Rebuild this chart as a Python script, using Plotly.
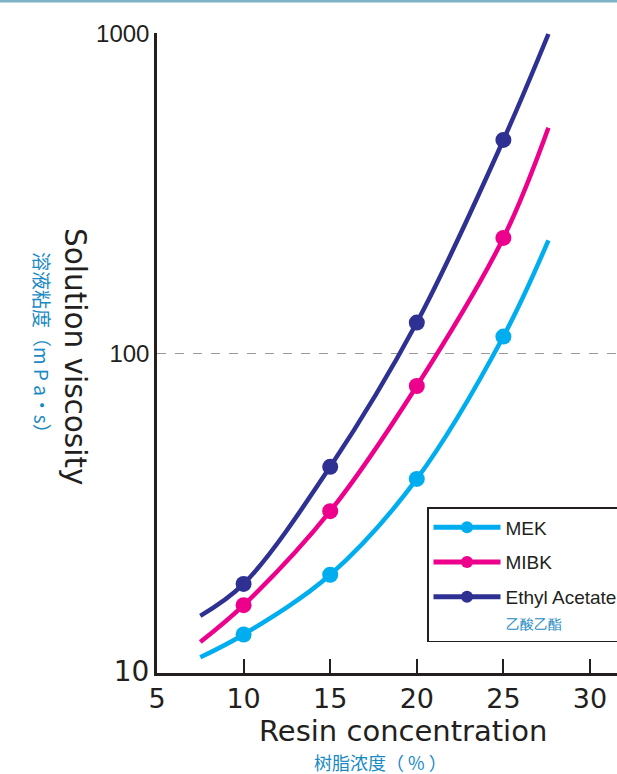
import plotly.graph_objects as go

# ---- data ----
x_line = [7.5, 10, 15, 20, 25, 27.6]
mek = [11.2, 13.2, 20.3, 40.5, 113, 226]
mibk = [12.5, 16.3, 32.1, 79.1, 230, 509]
ethyl = [15.1, 19.0, 44.2, 125, 466, 1000]
marker_sizes = [0, 16, 16, 16, 16, 0]

series_names = ["MEK", "MIBK",
                "Ethyl Acetate<br><span style='font-size:14px;color:#1a8ac4'>乙酸乙酯</span>"]
series_colors = ["#00aeef", "#ec008c", "#2e3192"]

x_ticks = [5, 10, 15, 20, 25, 30]
y_ticks = [10, 100, 1000]
y_ticktext = ["<span style='font-size:28px;font-family:DejaVu Sans'>10</span>", "100", "1000"]

W, H = 617, 774
L, R, T, B = 157, 0, 33, 101
pw, ph = W - L - R, H - T - B

def px(xpix):
    return (xpix - L) / pw

def py(ypix):
    return (H - B - ypix) / ph

fig = go.Figure()
for i, (name, vals, col) in enumerate(zip(series_names, [mek, mibk, ethyl], series_colors)):
    fig.add_trace(go.Scatter(
        x=x_line, y=vals, name=name, mode="lines+markers", legendgroup=f"g{i}",
        line=dict(color=col, width=4.5, shape="spline", smoothing=1),
        marker=dict(color=col, size=marker_sizes, opacity=1, line=dict(width=0)),
    ))

# invisible trace carrying the single dashed reference gridline at 100
fig.add_trace(go.Scatter(x=[None], y=[None], yaxis="y2", showlegend=False, hoverinfo="skip"))

blue = "#1a8ac4"
font_wide = "DejaVu Sans, Verdana, sans-serif"
font_main = "Liberation Sans, Arial, sans-serif"
font_cjk = "Noto Sans CJK SC, Noto Sans CJK JP, sans-serif"

fig.update_layout(
    width=W, height=H,
    margin=dict(l=L, r=R, t=T, b=B, autoexpand=False),
    paper_bgcolor="white", plot_bgcolor="white",
    font=dict(family=font_main, color="#231f20"),
    xaxis=dict(
        range=[5, 5 + pw / (433 / 25)], tickvals=x_ticks,
        ticks="inside", ticklen=14, tickwidth=2, tickcolor="#231f20",
        showline=True, linecolor="#231f20", linewidth=2.5,
        showgrid=False, zeroline=False,
        tickfont=dict(size=27, family=font_wide, color="#231f20"),
    ),
    yaxis=dict(
        type="log", range=[1, 1 + ph / 319.5],
        tickvals=y_ticks, ticktext=y_ticktext, ticks="",
        showline=True, linecolor="#231f20", linewidth=2.5,
        showgrid=False, zeroline=False,
        tickfont=dict(size=24, family=font_main, color="#231f20"),
    ),
    yaxis2=dict(
        type="log", range=[1, 1 + ph / 319.5], overlaying="y",
        tickvals=[100], showticklabels=False, ticks="",
        showgrid=True, gridcolor="#9a9a9a", gridwidth=1.2, griddash="dash",
        showline=False, zeroline=False,
    ),
    legend=dict(
        x=px(427), y=py(507), xanchor="left", yanchor="top",
        bgcolor="white", bordercolor="#231f20", borderwidth=1.5,
        font=dict(size=19, family=font_main, color="#231f20"),
        itemsizing="constant", itemwidth=67, valign="top",
        tracegroupgap=7,
    ),
    showlegend=True,
)

annotations = [
    dict(text="Solution viscosity", x=px(75), y=py(356), textangle=90,
         font=dict(size=29.5, family=font_wide, color="#231f20")),
    dict(text="溶液粘度（m P a·s）", x=px(43), y=py(347), textangle=90,
         font=dict(size=19, family=font_cjk, color=blue)),
    dict(text="Resin concentration", x=px(403), y=py(731),
         font=dict(size=29, family=font_wide, color="#231f20")),
    dict(text="树脂浓度（ % ）", x=px(380), y=py(762),
         font=dict(size=18, family=font_cjk, color=blue)),
]
for a in annotations:
    a.update(xref="paper", yref="paper", showarrow=False, xanchor="center", yanchor="middle")
fig.update_layout(annotations=annotations)

fig.add_shape(type="line", xref="paper", yref="paper",
              x0=px(0), x1=px(W), y0=py(1), y1=py(1),
              line=dict(color="#7fb3c8", width=3))

fig.write_html("out.html", config={"displayModeBar": False},
               post_script="document.body.style.margin='0px';")
